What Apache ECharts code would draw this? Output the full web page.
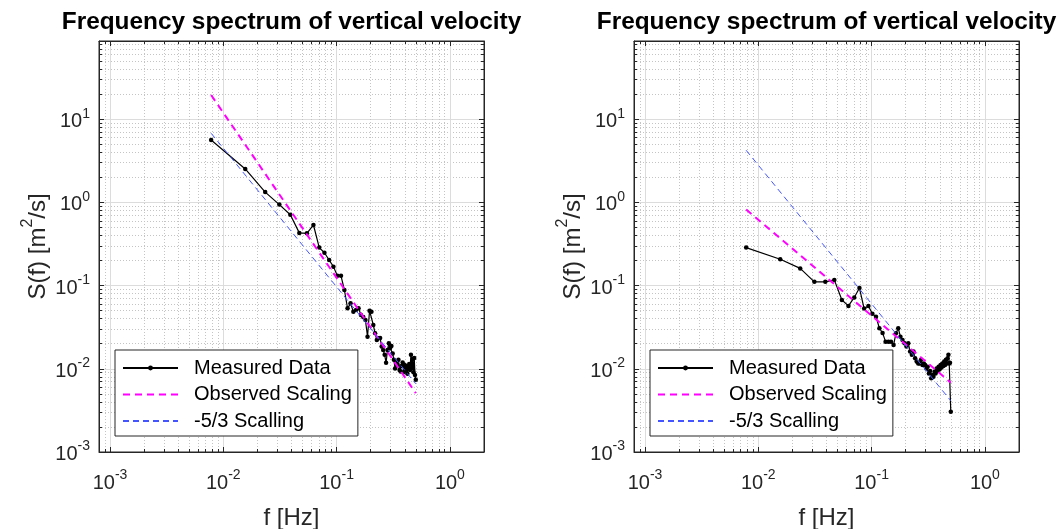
<!DOCTYPE html>
<html><head><meta charset="utf-8">
<script src="https://cdn.jsdelivr.net/npm/echarts@6/dist/echarts.min.js"></script>
<style>html,body{margin:0;padding:0;background:#fff}#c{width:1062px;height:529px}</style>
</head><body><div id="c"></div>
<script>
// ---------------- data ----------------
const freqHz = [0.0078125, 0.015625, 0.0234375, 0.03125, 0.0390625, 0.046875, 0.0546875, 0.0625,
  0.0703125, 0.078125, 0.0859375, 0.09375, 0.1015625, 0.109375, 0.1171875, 0.125,
  0.1328125, 0.140625, 0.1484375, 0.15625, 0.1640625, 0.171875, 0.1796875, 0.1875,
  0.1953125, 0.203125, 0.2109375, 0.21875, 0.2265625, 0.234375, 0.2421875, 0.25,
  0.2578125, 0.265625, 0.2734375, 0.28125, 0.2890625, 0.296875, 0.3046875, 0.3125,
  0.3203125, 0.328125, 0.3359375, 0.34375, 0.3515625, 0.359375, 0.3671875, 0.375,
  0.3828125, 0.390625, 0.3984375, 0.40625, 0.4140625, 0.421875, 0.4296875, 0.4375,
  0.4453125, 0.453125, 0.4609375, 0.46875, 0.4765625, 0.484375, 0.4921875, 0.5];
const leftMeasured = [5.62, 2.52, 1.33, 0.94, 0.71, 0.43, 0.425, 0.535,
  0.286, 0.248, 0.203, 0.169, 0.1315, 0.131, 0.0885, 0.0533,
  0.0612, 0.0485, 0.051, 0.0533, 0.0443, 0.042, 0.0386, 0.0243,
  0.0499, 0.0485, 0.0336, 0.0267, 0.0222, 0.0233, 0.0234, 0.0185,
  0.0168, 0.0147, 0.0118, 0.0168, 0.0203, 0.0178, 0.0188, 0.0153,
  0.0128, 0.0101, 0.0119, 0.0111, 0.0128, 0.0097, 0.0093, 0.0108,
  0.0119, 0.0091, 0.0111, 0.0097, 0.0108, 0.0087, 0.0102, 0.0114,
  0.0097, 0.0147, 0.0102, 0.0131, 0.0091, 0.0135, 0.0084, 0.0074];
const rightMeasured = [0.286, 0.207, 0.161, 0.111, 0.111, 0.117, 0.067, 0.057,
  0.072, 0.0935, 0.053, 0.057, 0.046, 0.0423, 0.0307, 0.027,
  0.0212, 0.0212, 0.0212, 0.0193, 0.0267, 0.0307, 0.0243, 0.0222,
  0.0203, 0.0185, 0.0203, 0.0161, 0.0147, 0.0161, 0.0134, 0.0122,
  0.0116, 0.0116, 0.0128, 0.0111, 0.0116, 0.0111, 0.0101, 0.0106,
  0.0088, 0.0094, 0.0077, 0.0084, 0.0080, 0.0092, 0.0088, 0.0101,
  0.0094, 0.0106, 0.0099, 0.0111, 0.0104, 0.0116, 0.0108, 0.0122,
  0.0111, 0.0128, 0.0116, 0.0134, 0.0147, 0.0116, 0.0118, 0.00305];
const scalingFreq = [0.0078125, 0.5];
const leftObserved = [19.5, 0.0051];
const leftKolmogorov = [6.77, 0.0066];
const rightObserved = [0.82, 0.0068];
const rightKolmogorov = [4.23, 0.00413];
const xMajorTicks = [0.001, 0.01, 0.1, 1];
const yMajorTicks = [0.001, 0.01, 0.1, 1, 10];
const xRange = [8e-4, 2];
const yRange = [1e-3, 87];
const titleText = 'Frequency spectrum of vertical velocity';
const seriesNames = ['Measured Data', 'Observed Scaling', '-5/3 Scalling'];
const xName = 'f [Hz]';

// ---------------- helpers ----------------
const F = '"Liberation Sans", Arial, Helvetica, sans-serif';
const AX = '#262626';
function minorTicks(range) {
  const out = [];
  for (let e = -5; e <= 3; e++) for (let m = 2; m <= 9; m++) {
    const v = parseFloat((m * Math.pow(10, e)).toPrecision(4));
    if (v >= range[0] - 1e-12 && v <= range[1] + 1e-12) out.push(v);
  }
  return out;
}
const xMinor = minorTicks(xRange);
const yMinor = minorTicks(yRange);
const powLabel = v => '{b|10}{s|' + Math.round(Math.log10(v)) + '}';
const labelRich = {
  b: { fontSize: 20, fontFamily: F, color: AX, padding: [5, 0, 0, 0] },
  s: { fontSize: 14, fontFamily: F, color: AX, verticalAlign: 'top' }
};

const grids = [
  { left: 99, top: 41, width: 385, height: 411 },
  { left: 634, top: 41, width: 385, height: 411 }
];

function axesFor(dim, gi, range, major, minor) {
  const isX = dim === 'x';
  const base = { type: 'log', logBase: 10, min: range[0], max: range[1], gridIndex: gi,
    nameMoveOverlap: false, minorTick: { show: false }, minorSplitLine: { show: false } };
  const posA = isX ? 'bottom' : 'left';
  const posB = isX ? 'top' : 'right';
  const name = isX ? xName : '{a|S(f) [m}{s|2}{a|/s]}';
  return [
    Object.assign({}, base, {
      position: posA,
      axisLine: { show: true, lineStyle: { color: AX, width: 1 } },
      axisTick: { show: true, inside: true, length: 5, customValues: major, lineStyle: { color: AX } },
      axisLabel: { show: true, customValues: major, formatter: powLabel, rich: labelRich, margin: isX ? 16 : 9, color: AX },
      splitLine: { show: true, lineStyle: { color: '#dcdcdc', width: 1 } },
      name: name, nameLocation: 'middle', nameGap: isX ? 54 : 49,
      nameTextStyle: isX ? { fontSize: 24, fontFamily: F, color: AX } : {
        rich: {
          a: { fontSize: 24, fontFamily: F, color: AX, padding: [6, 0, 0, 0] },
          s: { fontSize: 16, fontFamily: F, color: AX, verticalAlign: 'top' }
        }
      }
    }),
    Object.assign({}, base, {
      position: posA,
      axisLine: { show: false },
      axisTick: { show: true, inside: true, length: 3, customValues: minor, lineStyle: { color: AX } },
      axisLabel: { show: false },
      splitLine: { show: true, lineStyle: { color: '#c4c4c4', width: 1, type: [1, 2] } }
    }),
    Object.assign({}, base, {
      position: posB,
      axisLine: { show: true, lineStyle: { color: AX, width: 1 } },
      axisTick: { show: true, inside: true, length: 5, customValues: major, lineStyle: { color: AX } },
      axisLabel: { show: false },
      splitLine: { show: false }
    }),
    Object.assign({}, base, {
      position: posB,
      axisLine: { show: false },
      axisTick: { show: true, inside: true, length: 3, customValues: minor, lineStyle: { color: AX } },
      axisLabel: { show: false },
      splitLine: { show: false }
    })
  ];
}

const xAxis = [].concat(axesFor('x', 0, xRange, xMajorTicks, xMinor), axesFor('x', 1, xRange, xMajorTicks, xMinor));
const yAxis = [].concat(axesFor('y', 0, yRange, yMajorTicks, yMinor), axesFor('y', 1, yRange, yMajorTicks, yMinor));

function plotSeries(gi, measured, observed, kolmogorov) {
  const ai = gi * 4;
  return [
    { type: 'line', name: seriesNames[0], xAxisIndex: ai, yAxisIndex: ai,
      data: freqHz.map((f, i) => [f, measured[i]]),
      symbol: 'circle', symbolSize: 4.5, showSymbol: true,
      lineStyle: { color: '#000', width: 1.2 }, itemStyle: { color: '#000' }, z: 3 },
    { type: 'line', name: seriesNames[1], xAxisIndex: ai, yAxisIndex: ai,
      data: scalingFreq.map((f, i) => [f, observed[i]]), symbol: 'none',
      lineStyle: { color: '#ff00ff', width: 2, type: [7, 5] }, itemStyle: { color: '#ff00ff' }, z: 4 },
    { type: 'line', name: seriesNames[2], xAxisIndex: ai, yAxisIndex: ai,
      data: scalingFreq.map((f, i) => [f, kolmogorov[i]]), symbol: 'none',
      lineStyle: { color: '#4455ff', width: 1, type: [6, 4] }, itemStyle: { color: '#4455ff' }, z: 5 }
  ];
}

function legendFor(left) {
  return { left: left, top: 350, orient: 'vertical', selectedMode: false,
    data: [
      { name: seriesNames[0] },
      { name: seriesNames[1], itemStyle: { opacity: 0 } },
      { name: seriesNames[2], itemStyle: { opacity: 0 } }
    ],
    itemWidth: 55, itemHeight: 6, itemGap: 6.5, padding: [8, 6, 5, 7],
    borderColor: AX, borderWidth: 1, borderRadius: 0, backgroundColor: '#fff',
    textStyle: { fontSize: 20, fontFamily: F, color: '#000', padding: [0, 0, 0, 11] } };
}

const chart = echarts.init(document.getElementById('c'), null, { renderer: 'canvas' });
chart.setOption({
  animation: false,
  backgroundColor: '#fff',
  title: grids.map(g => ({ text: titleText, left: g.left + g.width / 2, top: 10, textAlign: 'center', padding: 0,
    textStyle: { fontSize: 24.4, fontWeight: 'bold', fontFamily: F, color: '#000' } })),
  grid: grids.map(g => Object.assign({ show: true, borderColor: AX, borderWidth: 1, backgroundColor: '#fff',
    containLabel: false, outerBoundsMode: 'none' }, g)),
  legend: [legendFor(115), legendFor(650)],
  xAxis: xAxis,
  yAxis: yAxis,
  series: [].concat(plotSeries(0, leftMeasured, leftObserved, leftKolmogorov),
                    plotSeries(1, rightMeasured, rightObserved, rightKolmogorov))
});
</script></body></html>
